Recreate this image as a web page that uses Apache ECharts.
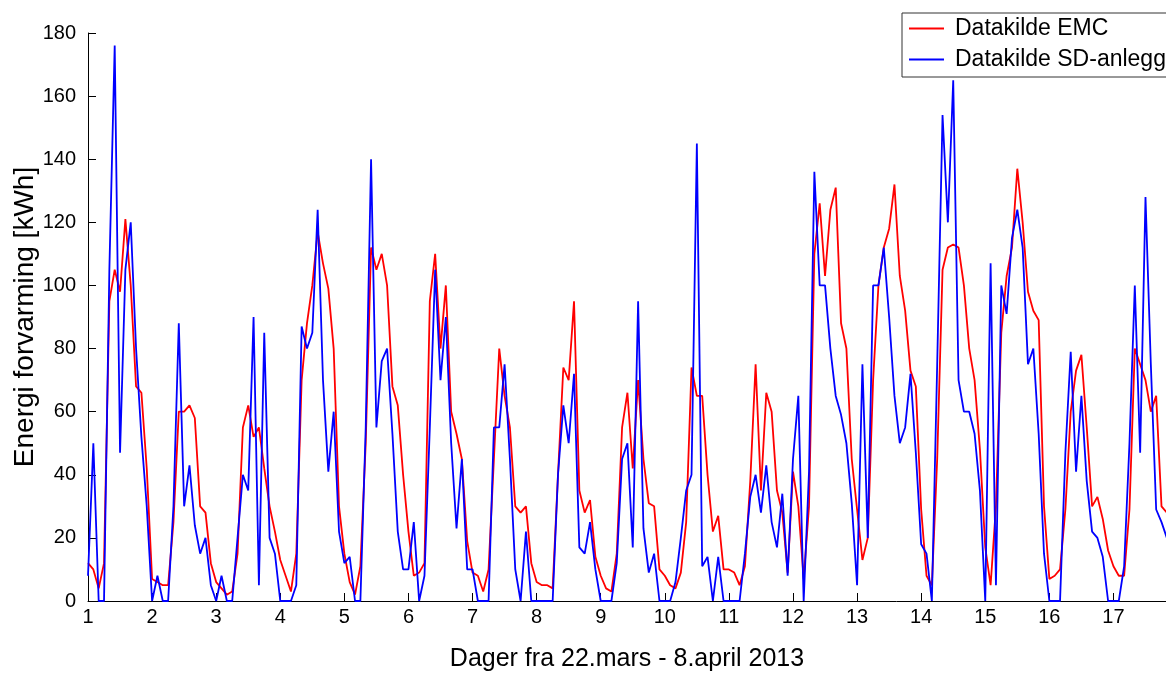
<!DOCTYPE html>
<html>
<head>
<meta charset="utf-8">
<script src="https://cdn.jsdelivr.net/npm/echarts@6/dist/echarts.min.js"></script>
<style>
  html, body { margin: 0; padding: 0; background: #fff; }
  #chart { width: 1166px; height: 673px; }
</style>
</head>
<body>
<div id="chart"></div>
<script>
// Readings every 2 hours, one row per day (day 1 = 22. mars)
const samplesPerDay = 12;

const emc = [
  12, 10, 4, 12, 95, 105, 98, 121, 100, 68, 66, 42,
  7, 6, 5, 5, 25, 60, 60, 62, 58, 30, 28, 12,
  6, 4, 2, 3, 15, 55, 62, 52, 55, 42, 30, 22,
  13, 8, 3, 15, 70, 88, 100, 117, 107, 99, 80, 30,
  15, 6, 2, 11, 50, 112, 105, 110, 100, 68, 62, 40,
  22, 8, 9, 12, 95, 110, 80, 100, 60, 53, 45, 19,
  9, 8, 3, 10, 45, 80, 65, 55, 30, 28, 30, 12,
  6, 5, 5, 4, 40, 74, 70, 95, 35, 28, 32, 14,
  8, 4, 3, 15, 55, 66, 42, 70, 45, 31, 30, 10,
  8, 5, 4, 9, 25, 74, 65, 65, 40, 22, 27, 10,
  10, 9, 5, 11, 38, 75, 35, 66, 60, 35, 28, 9,
  41, 30, 7, 30, 110, 126, 103, 124, 131, 88, 80, 45,
  29, 13, 20, 70, 100, 112, 118, 132, 103, 92, 73, 68,
  29, 8, 5, 45, 105, 112, 113, 112, 100, 80, 70, 48,
  17, 5, 30, 85, 103, 112, 137, 120, 98, 92, 89, 30,
  7, 8, 10, 29, 60, 73, 78, 55, 30, 33, 26, 16,
  11, 8, 8, 29, 80, 75, 70, 60, 65, 30, 28
];

const sdAnlegg = [
  8, 50, 0, 0, 105, 176, 47, 105, 120, 80, 52, 30,
  0, 8, 0, 0, 30, 88, 30, 43, 24, 15, 20, 5,
  0, 8, 0, 0, 20, 40, 35, 90, 5, 85, 20, 15,
  0, 0, 0, 5, 87, 80, 85, 124, 70, 41, 60, 22,
  12, 14, 0, 0, 55, 140, 55, 76, 80, 53, 22, 10,
  10, 25, 0, 8, 55, 105, 70, 90, 50, 23, 45, 10,
  10, 0, 0, 0, 55, 55, 75, 45, 10, 0, 22, 0,
  0, 0, 0, 0, 40, 62, 50, 72, 17, 15, 25, 10,
  0, 0, 0, 12, 45, 50, 17, 95, 23, 9, 15, 0,
  0, 0, 6, 20, 35, 40, 145, 11, 14, 0, 14, 0,
  0, 0, 0, 15, 33, 40, 28, 43, 25, 17, 34, 8,
  45, 65, 0, 41, 136, 100, 100, 80, 65, 59, 50, 31,
  5, 75, 20, 100, 100, 112, 90, 65, 50, 55, 72, 47,
  18, 15, 0, 75, 154, 120, 165, 70, 60, 60, 53, 35,
  0, 107, 5, 100, 91, 115, 124, 112, 75, 80, 53, 15,
  0, 0, 0, 47, 79, 41, 65, 38, 22, 20, 14, 0,
  0, 0, 11, 50, 100, 47, 128, 75, 29, 25, 20
];

const seriesNames = ['Datakilde EMC', 'Datakilde SD-anlegg'];
const xTitle = 'Dager fra 22.mars - 8.april 2013';
const yTitle = 'Energi forvarming [kWh]';
const FONT = '"Liberation Sans", Arial, Helvetica, sans-serif';

// day number for each reading
const toPoints = vals => vals.map((v, i) => [1 + i / samplesPerDay, v]);

const chart = echarts.init(document.getElementById('chart'));
chart.setOption({
  animation: false,
  backgroundColor: '#fff',
  grid: { left: 88, top: 33, right: 0, bottom: 72, outerBoundsMode: 'none' },
  legend: {
    orient: 'vertical',
    left: 902,
    top: 13,
    padding: [4, 20, 6, 7],
    itemGap: 8,
    itemWidth: 35,
    itemHeight: 2,
    icon: 'rect',
    borderColor: '#333',
    borderWidth: 1,
    backgroundColor: '#fff',
    textStyle: { fontSize: 23, color: '#000', fontFamily: FONT, padding: [0, 0, 0, 6] },
    data: seriesNames
  },
  xAxis: {
    type: 'value',
    min: 1,
    max: 17.82,
    interval: 1,
    name: xTitle,
    nameLocation: 'middle',
    nameGap: 46,
    nameMoveOverlap: false,
    nameTextStyle: { fontSize: 25, color: '#000', fontFamily: FONT },
    axisLine: { show: true, lineStyle: { color: '#000', width: 1 } },
    axisTick: { show: true, inside: true, length: 8, lineStyle: { color: '#000' } },
    axisLabel: {
      fontSize: 20, color: '#000', fontFamily: FONT, margin: 6,
      formatter: v => (Number.isInteger(v) ? String(v) : '')
    },
    splitLine: { show: false }
  },
  yAxis: {
    type: 'value',
    min: 0,
    max: 180,
    interval: 20,
    name: yTitle,
    nameLocation: 'middle',
    nameGap: 49,
    nameRotate: 90,
    nameMoveOverlap: false,
    nameTextStyle: { fontSize: 28, color: '#000', fontFamily: FONT },
    axisLine: { show: true, lineStyle: { color: '#000', width: 1 } },
    axisTick: { show: true, inside: true, length: 8, lineStyle: { color: '#000' } },
    axisLabel: { fontSize: 20, color: '#000', fontFamily: FONT, margin: 12 },
    splitLine: { show: false }
  },
  series: [
    {
      name: seriesNames[0], type: 'line', symbol: 'none',
      data: toPoints(emc),
      itemStyle: { color: '#ff0000' },
      lineStyle: { color: '#ff0000', width: 1.8 }
    },
    {
      name: seriesNames[1], type: 'line', symbol: 'none',
      data: toPoints(sdAnlegg),
      itemStyle: { color: '#0000ff' },
      lineStyle: { color: '#0000ff', width: 1.8 }
    }
  ]
});
</script>
</body>
</html>
